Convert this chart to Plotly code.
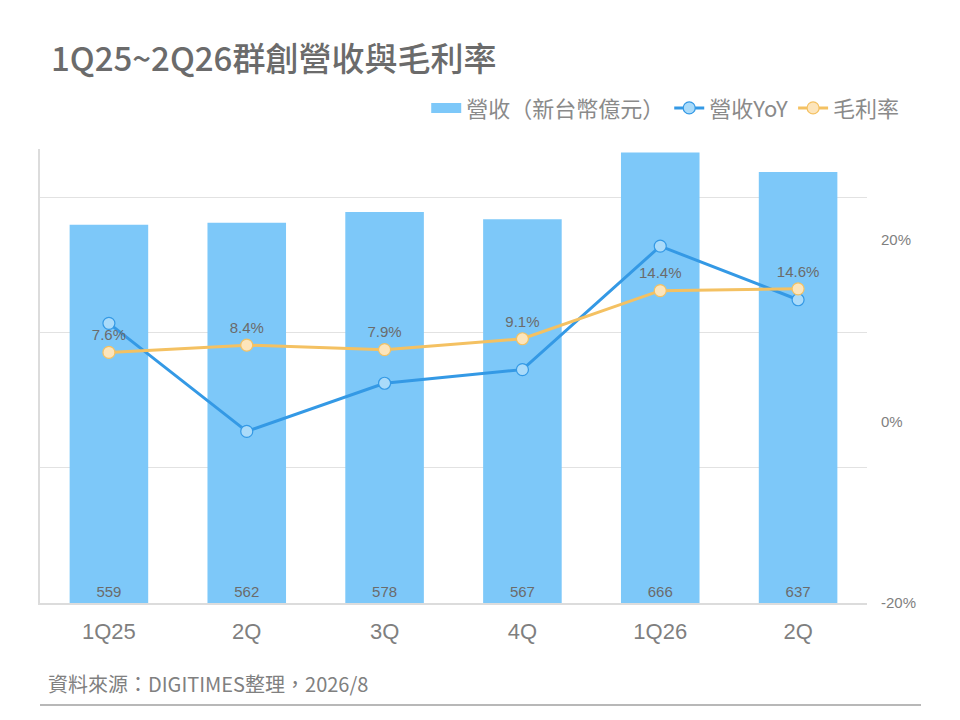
import plotly.graph_objects as go

quarters = ['1Q25', '2Q', '3Q', '4Q', '1Q26', '2Q']
revenue = [559, 562, 578, 567, 666, 637]
revenue_yoy = [10.8, -1.1, 4.2, 5.7, 19.3, 13.4]
gross_margin = [7.6, 8.4, 7.9, 9.1, 14.4, 14.6]
right_ticks = [-20, 0, 20]

latin = 'Liberation Sans, Arial, Noto Sans CJK TC'
cjk = 'Noto Sans CJK TC, Liberation Sans'

bar_color = '#7dc8f9'
yoy_color = '#3499e5'
gm_color = '#f4c162'

x_idx = list(range(len(quarters)))

fig = go.Figure()

fig.add_trace(go.Bar(x=x_idx, y=revenue,
                     name='營收（新台幣億元）', showlegend=False,
                     marker=dict(color=bar_color, line_width=0),
                     width=0.57,
                     text=[str(v) for v in revenue],
                     textposition='inside',
                     insidetextanchor='start',
                     textfont=dict(family=latin, size=15, color='#6b6b6b'),
                     ))

# wide swatch for the bar legend entry
fig.add_trace(go.Scatter(x=[None], y=[None], mode='lines',
                         name='營收（新台幣億元）',
                         line=dict(color=bar_color, width=10)))

fig.add_trace(go.Scatter(x=x_idx, y=revenue_yoy,
                         name='營收YoY', yaxis='y2',
                         mode='lines+markers',
                         line=dict(color=yoy_color, width=3),
                         marker=dict(size=12, color='#aadbfa', line=dict(color=yoy_color, width=1.2)),
                         ))

fig.add_trace(go.Scatter(x=x_idx, y=gross_margin,
                         name='毛利率', yaxis='y2',
                         mode='lines+markers+text',
                         text=[f'{v:.1f}%' for v in gross_margin],
                         textposition='top center',
                         textfont=dict(family=latin, size=15, color='#6b6b6b'),
                         line=dict(color=gm_color, width=3),
                         marker=dict(size=12, color='#fde5bb', line=dict(color=gm_color, width=1.2)),
                         ))

# page has an 8px body margin, so the figure is 952x712 and offsets are shifted
fig.update_layout(
    width=952, height=712,
    margin=dict(l=32, r=93, t=141, b=117),
    plot_bgcolor='white', paper_bgcolor='white',
    font=dict(family=latin, color='#7f7f7f'),
    showlegend=True,
    legend=dict(orientation='h', x=1.045, xanchor='right', y=1.09, yanchor='middle',
                font=dict(family=cjk, size=22, color='#8a8a8a'),
                itemwidth=30, tracegroupgap=0, bgcolor='rgba(0,0,0,0)'),
    xaxis=dict(tickvals=x_idx, ticktext=quarters, range=[-0.5, 5.5],
               showline=True, linecolor='#dcdcdc', linewidth=1.5,
               ticks='', showgrid=False, ticklabelstandoff=8,
               tickfont=dict(family=latin, size=22, color='#7f7f7f')),
    yaxis=dict(range=[0, 671], tickvals=[200, 400, 600], showticklabels=False,
               showgrid=True, gridcolor='#e2e2e2', gridwidth=1,
               showline=True, linecolor='#dcdcdc', linewidth=1.5, zeroline=False),
    yaxis2=dict(range=[-20, 30], overlaying='y', side='right',
                tickvals=right_ticks, ticktext=[f'{v}%' for v in right_ticks],
                showgrid=False, zeroline=False,
                showline=False, ticks='', ticklabelstandoff=13,
                tickfont=dict(family=latin, size=15, color='#7f7f7f')),
)

fig.add_annotation(text='1Q25~2Q26群創營收與毛利率', xref='paper', yref='paper',
                   x=(49 - 40) / 827, y=(603 - 57) / 454, xanchor='left', yanchor='middle',
                   showarrow=False, font=dict(family=cjk, size=33, color='#6b6b6b', weight=500))

fig.add_annotation(text='資料來源：DIGITIMES整理，2026/8', xref='paper', yref='paper',
                   x=(46 - 40) / 827, y=(603 - 683) / 454, xanchor='left', yanchor='middle',
                   showarrow=False, font=dict(family=cjk, size=20, color='#808080'))

fig.add_shape(type='line', xref='paper', yref='paper',
              x0=0, x1=(921 - 40) / 827, y0=(603 - 705) / 454, y1=(603 - 705) / 454,
              line=dict(color='#a0a0a0', width=1.5))

fig.write_html('out.html')
